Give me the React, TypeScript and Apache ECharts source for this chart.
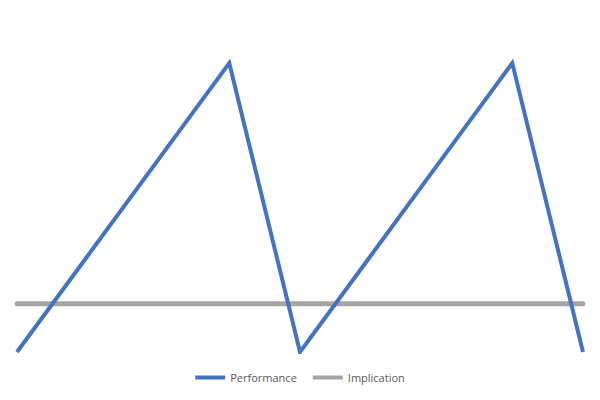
import React, { useEffect, useRef } from "react";
import * as echarts from "echarts";

const categories = ["1", "2", "3", "4", "5", "6", "7", "8", "9"];
const performance = [0, 1, 2, 3, 0, 1, 2, 3, 0];
const implication = [0.5, 0.5, 0.5, 0.5, 0.5, 0.5, 0.5, 0.5, 0.5];

export default function App() {
  const ref = useRef<HTMLDivElement>(null);
  useEffect(() => {
    if (!ref.current) return;
    const chart = echarts.init(ref.current, null, { renderer: "svg" });
    chart.setOption({
      animation: false,
      backgroundColor: "#ffffff",
      grid: { left: 17, right: 17, top: 15, bottom: 48 },
      xAxis: {
        type: "category",
        data: categories,
        boundaryGap: false,
        show: false,
      },
      yAxis: {
        type: "value",
        min: 0,
        max: 3.5,
        show: false,
      },
      legend: {
        bottom: 12,
        left: "center",
        itemWidth: 30,
        itemHeight: 4,
        itemGap: 16,
        icon: "rect",
        textStyle: {
          color: "#595959",
          fontSize: 11,
          fontFamily: "Open Sans",
        },
        data: ["Performance", "Implication"],
      },
      series: [
        {
          name: "Performance",
          type: "line",
          data: performance,
          showSymbol: false,
          symbol: "none",
          color: "#4472C4",
          lineStyle: { width: 4, color: "#4472C4", join: "miter" },
          z: 3,
        },
        {
          name: "Implication",
          type: "line",
          data: implication,
          showSymbol: false,
          symbol: "none",
          color: "#A5A5A5",
          lineStyle: { width: 5, color: "#A5A5A5", cap: "round" },
          z: 2,
        },
      ],
    });
    return () => chart.dispose();
  }, []);
  return (
    <div
      ref={ref}
      style={{ position: "fixed", left: 0, top: 0, width: 600, height: 400 }}
    />
  );
}
